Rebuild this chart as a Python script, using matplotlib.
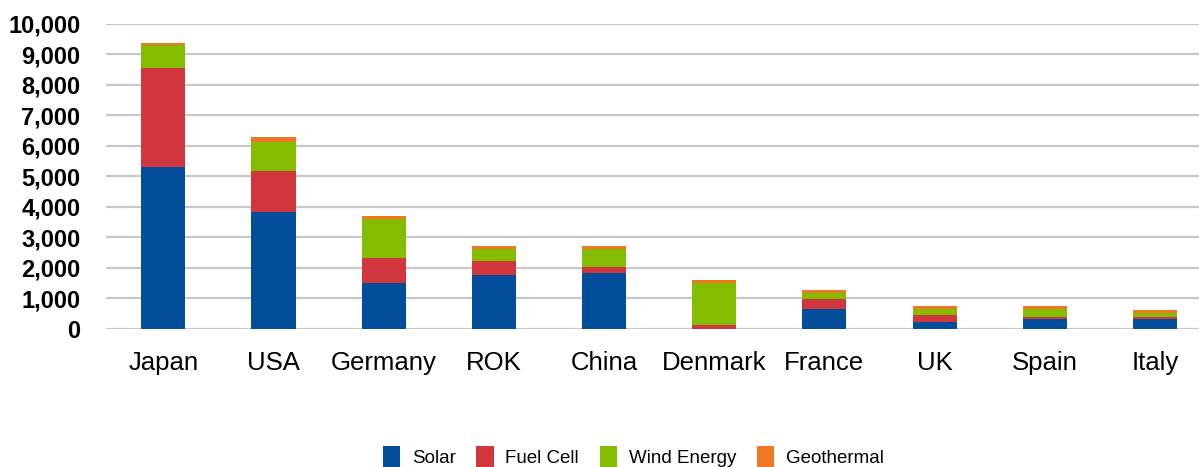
import matplotlib
matplotlib.use("Agg")
import matplotlib.pyplot as plt
from matplotlib.ticker import FuncFormatter
import numpy as np

countries = ["Japan", "USA", "Germany", "ROK", "China", "Denmark", "France", "UK", "Spain", "Italy"]
solar = [5310, 3840, 1500, 1760, 1830, 0, 645, 220, 320, 320]
fuel_cell = [3250, 1335, 830, 460, 195, 120, 330, 230, 65, 65]
wind = [740, 960, 1270, 395, 590, 1380, 195, 195, 260, 130]
geothermal = [80, 155, 100, 100, 100, 100, 100, 100, 100, 100]

series = [
    ("Solar", solar, "#034e9a"),
    ("Fuel Cell", fuel_cell, "#d1363d"),
    ("Wind Energy", wind, "#84bc00"),
    ("Geothermal", geothermal, "#ef7623"),
]

plt.rcParams["font.family"] = ["Liberation Sans", "DejaVu Sans"]

fig = plt.figure(figsize=(11.99, 4.67), dpi=100)
ax = fig.add_axes([106 / 1199, 1 - 328.7 / 467, (1199 - 106) / 1199, (328.7 - 24) / 467])

x = np.arange(len(countries))
bottom = np.zeros(len(countries))
handles = []
for name, vals, color in series:
    vals = np.array(vals, dtype=float)
    h = ax.bar(x, vals, width=0.4, bottom=bottom, color=color, label=name, zorder=3)
    handles.append(h)
    bottom += vals

ax.set_xlim(-0.52, 9.4)
ax.set_ylim(0, 10000)
ax.set_yticks(np.arange(0, 10001, 1000))
ax.yaxis.set_major_formatter(FuncFormatter(lambda v, p: f"{int(v):,}"))
ax.grid(axis="y", color="#c8c8c8", linewidth=1.6, zorder=0)
for s in ax.spines.values():
    s.set_visible(False)
ax.tick_params(axis="y", length=0, pad=18.5, labelsize=17)
ax.tick_params(axis="x", length=0, pad=16, labelsize=18.5)
for lbl in ax.get_yticklabels():
    lbl.set_fontweight("bold")
ax.set_xticks(x)
ax.set_xticklabels(countries)

fig.legend(handles=handles, labels=[s[0] for s in series], loc="center",
           bbox_to_anchor=(0.528, 0.022), ncol=4, frameon=False, fontsize=13.5,
           handlelength=0.95, handleheight=1.3, handletextpad=0.6, columnspacing=1.1,
           borderpad=0.2)

fig.savefig("out.png", dpi=100)
